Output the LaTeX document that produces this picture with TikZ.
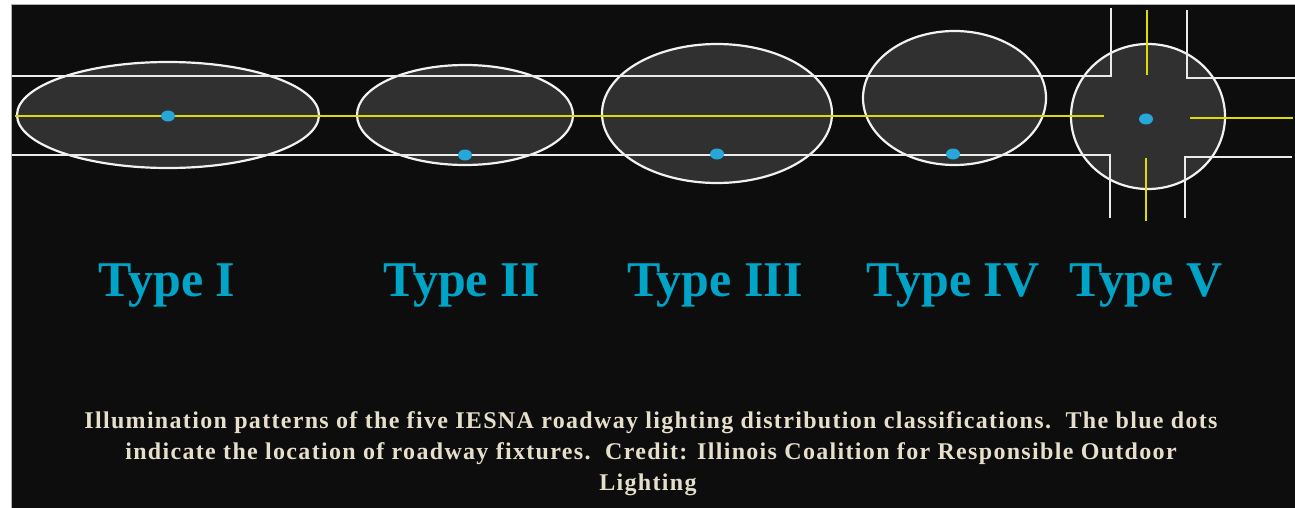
\documentclass[tikz,border=0pt]{standalone}
\usepackage{fontspec}
\setmainfont{Liberation Serif}
\newfontfamily\capfont[LetterSpace=5.5]{Liberation Serif}
\usetikzlibrary{shapes.geometric}
\definecolor{bgdark}{HTML}{0D0D0D}
\definecolor{zonefill}{HTML}{303030}
\definecolor{roadyellow}{HTML}{DCDC00}
\definecolor{dotblue}{HTML}{27A6D9}
\definecolor{labelblue}{HTML}{00A4C6}
\definecolor{captioncol}{HTML}{E6DFCB}
\tikzset{
  zone/.style={ellipse, draw=white!95!black, fill=zonefill, line width=2.2pt, inner sep=0pt},
  road/.style={draw=white!92!black, line width=2pt},
  centre/.style={draw=roadyellow, line width=2.2pt},
  fixture/.style={ellipse, fill=dotblue, inner sep=0pt, minimum width=14pt, minimum height=11pt},
  typelabel/.style={text=labelblue, font=\fontsize{50}{56}\selectfont\bfseries, inner sep=0pt, anchor=base},
  captionline/.style={text=captioncol, font=\capfont\fontsize{24}{28}\selectfont\bfseries, inner sep=0pt, anchor=base}
}
\begin{document}
\begin{tikzpicture}[x=1pt,y=-1pt]
\useasboundingbox (0,0) rectangle (1295,508);
\fill[white] (0,0) rectangle (1295,508);
\draw[fill=bgdark, draw=gray!60] (11,4) rectangle (1296,509);
% zones
\node[zone, minimum width=302pt, minimum height=106pt] (z1) at (168,115) {};
\node[zone, minimum width=216pt, minimum height=100pt] (z2) at (465,115) {};
\node[zone, minimum width=230pt, minimum height=139pt] (z3) at (717,113.5) {};
\node[zone, minimum width=183pt, minimum height=134pt] (z4) at (954.5,98) {};
\node[zone, minimum width=154pt, minimum height=145pt] (z5) at (1148,116.5) {};
% road edges
\coordinate (tlA) at (12,76);   \coordinate (tlB) at (1111,76);  \coordinate (tlC) at (1111,8);
\coordinate (trA) at (1187,10); \coordinate (trB) at (1187,78);  \coordinate (trC) at (1295,78);
\coordinate (blA) at (12,155);  \coordinate (blB) at (1110,155); \coordinate (blC) at (1110,218);
\coordinate (brA) at (1185,218);\coordinate (brB) at (1185,157); \coordinate (brC) at (1292,157);
\draw[road] (tlA) -- (tlB) -- (tlC);
\draw[road] (trA) -- (trB) -- (trC);
\draw[road] (blA) -- (blB) -- (blC);
\draw[road] (brA) -- (brB) -- (brC);
% centre lines
\coordinate (ylA) at (15,116);   \coordinate (ylB) at (1104,116);
\coordinate (yrA) at (1190,118); \coordinate (yrB) at (1293,118);
\coordinate (ytA) at (1147,10);  \coordinate (ytB) at (1147,75);
\coordinate (ybA) at (1146,158); \coordinate (ybB) at (1146,221);
\draw[centre] (ylA) -- (ylB);
\draw[centre] (yrA) -- (yrB);
\draw[centre] (ytA) -- (ytB);
\draw[centre] (ybA) -- (ybB);
% fixtures
\node[fixture] (d1) at (168,116) {};
\node[fixture] (d2) at (465,155) {};
\node[fixture] (d3) at (717,154) {};
\node[fixture] (d4) at (953,154) {};
\node[fixture] (d5) at (1146,119) {};
% labels
\node[typelabel] (t1) at (167,296) {Type I};
\node[typelabel] (t2) at (461.5,296) {Type II};
\node[typelabel] (t3) at (715,296) {Type III};
\node[typelabel] (t4) at (953,296) {Type IV};
\node[typelabel] (t5) at (1146,296) {Type V};
% caption
\node[captionline] (c1) at (651,428) {Illumination patterns of the five IESNA roadway lighting distribution classifications.\ \ The blue dots};
\node[captionline] (c2) at (651,459) {indicate the location of roadway fixtures.\ \ Credit: Illinois Coalition for Responsible Outdoor};
\node[captionline] (c3) at (648,490) {Lighting};
\end{tikzpicture}
\end{document}
